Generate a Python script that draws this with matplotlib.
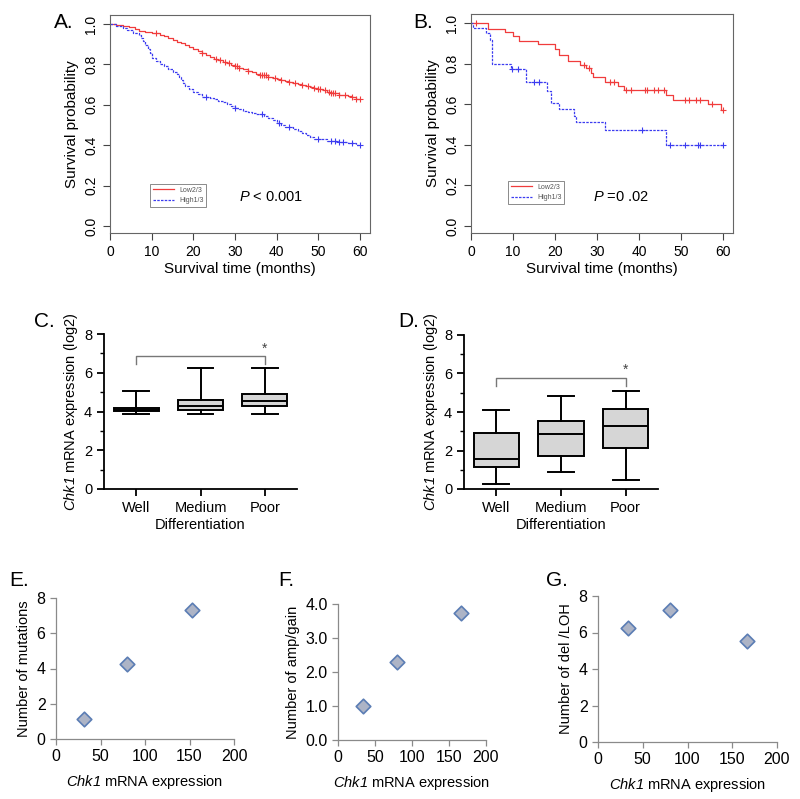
import numpy as np
import matplotlib
matplotlib.use("Agg")
import matplotlib.pyplot as plt

plt.rcParams['font.family'] = ['Liberation Sans', 'DejaVu Sans']
plt.rcParams['mathtext.fontset'] = 'custom'
plt.rcParams['mathtext.rm'] = 'Liberation Sans'
plt.rcParams['mathtext.it'] = 'Liberation Sans:italic'
# bf slot used for italic gene names so that digits are slanted too
plt.rcParams['mathtext.bf'] = 'Liberation Sans:italic'

# ---- A: Kaplan-Meier, cohort 1 ----
a_low_t = [0, 1.5, 3, 4.5, 6, 7, 8.5, 10, 12, 13, 14, 15, 16, 17, 18, 19, 20, 21, 22, 23, 24, 25,
           26, 27, 28, 29, 30, 31, 32, 33, 34, 35, 36, 38, 39, 40, 41, 42, 43, 44, 45, 46, 47, 48,
           49, 50, 51, 52, 53, 55, 57, 58, 59]
a_low_s = [1.0, 0.995, 0.99, 0.985, 0.975, 0.968, 0.962, 0.955, 0.948, 0.94, 0.93, 0.92, 0.912,
           0.905, 0.895, 0.885, 0.875, 0.865, 0.855, 0.847, 0.838, 0.828, 0.82, 0.813, 0.806,
           0.798, 0.79, 0.784, 0.777, 0.77, 0.762, 0.755, 0.746, 0.74, 0.735, 0.73, 0.724, 0.718,
           0.713, 0.708, 0.703, 0.698, 0.693, 0.688, 0.683, 0.678, 0.673, 0.665, 0.657, 0.65,
           0.643, 0.637, 0.63]
a_high_t = [0, 1.5, 3, 4, 5.5, 7, 7.5, 8, 8.5, 9, 9.5, 10, 11, 12, 13, 14, 15, 16, 16.5, 17, 17.5,
            18, 19, 20, 21, 22, 24, 25, 26, 27, 28, 29, 30, 31, 32, 33, 34, 35, 37, 38, 39, 40,
            41, 42, 44, 45, 46, 47, 48, 49, 52, 55, 57, 59]
a_high_s = [1.0, 0.99, 0.98, 0.97, 0.955, 0.945, 0.93, 0.915, 0.895, 0.875, 0.855, 0.83, 0.815,
            0.8, 0.79, 0.778, 0.765, 0.755, 0.74, 0.725, 0.71, 0.695, 0.68, 0.665, 0.653, 0.64,
            0.633, 0.627, 0.62, 0.613, 0.605, 0.595, 0.585, 0.577, 0.57, 0.565, 0.56, 0.553,
            0.545, 0.535, 0.525, 0.512, 0.5, 0.49, 0.48, 0.47, 0.46, 0.45, 0.44, 0.43, 0.423,
            0.417, 0.41, 0.403]
a_low_cens = [11, 22, 25.5, 26.5, 27.5, 28.5, 30, 30.5, 31, 33, 36, 36.5, 37, 37.5, 38, 39.5, 41,
              43, 44.5, 46, 47.5, 49, 50, 50.5, 51.5, 52.5, 53, 53.5, 54, 55, 56.5, 58, 59, 60]
a_high_cens = [23, 30, 36.5, 40.5, 43, 50, 53, 54, 55, 56, 58, 60]

# ---- B: Kaplan-Meier, cohort 2 ----
b_low_t = [0, 4, 8, 10, 11.5, 16, 20, 21, 23, 26, 27.5, 28.5, 29, 32, 35, 36.5, 46.5, 48, 56.5, 59.5]
b_low_s = [1.0, 0.97, 0.955, 0.935, 0.91, 0.895, 0.87, 0.845, 0.815, 0.795, 0.78, 0.755, 0.735,
           0.71, 0.69, 0.67, 0.645, 0.62, 0.6, 0.57]
b_high_t = [0, 0.5, 3.5, 4.5, 5, 9.5, 13, 18, 19, 21, 24.5, 25, 32, 46.5]
b_high_s = [1.0, 0.975, 0.95, 0.915, 0.80, 0.775, 0.71, 0.665, 0.607, 0.577, 0.54, 0.51, 0.475, 0.40]
b_low_cens = [1.3, 27, 28.2, 33, 34, 37, 38, 41.5, 42, 43.5, 44.5, 46, 51, 52, 53.5, 54.5, 57.5, 60]
b_high_cens = [9.8, 11.3, 15, 16.3, 40.8, 47.5, 51, 54, 54.5, 60]

# ---- C / D: boxplots ----
groups = ['Well', 'Medium', 'Poor']
c_whislo = [3.85, 3.85, 3.87]
c_q1 = [4.02, 4.1, 4.3]
c_med = [4.08, 4.3, 4.53]
c_q3 = [4.16, 4.6, 4.92]
c_whishi = [5.05, 6.22, 6.25]
d_whislo = [0.28, 0.88, 0.48]
d_q1 = [1.13, 1.7, 2.13]
d_med = [1.56, 2.86, 3.26]
d_q3 = [2.89, 3.55, 4.16]
d_whishi = [4.12, 4.83, 5.11]

# ---- E / F / G: scatter ----
e_x = [32, 80, 153]
e_y = [1.15, 4.25, 7.3]
f_x = [34, 80, 166]
f_y = [1.0, 2.3, 3.73]
g_x = [33, 81, 167]
g_y = [6.25, 7.23, 5.52]

GENE = r'$\mathbf{Chk1}$'

W, H = 800, 799
fig = plt.figure(figsize=(W / 100, H / 100), dpi=100)


def add_ax(l, t, r, b):
    return fig.add_axes([l / W, (H - b) / H, (r - l) / W, (b - t) / H])


def step_at(times, surv, t):
    i = np.searchsorted(times, t, side='right') - 1
    return surv[i]


def km_panel(ax, lt, ls, ht, hs, lc, hc, ptxt, px, leg_xy):
    red, blue = '#f03c3c', '#3c3cf0'
    ax.plot(lt + [60], ls + [ls[-1]], drawstyle='steps-post', color=red, lw=0.9, label='Low2/3')
    ax.plot(ht + [60], hs + [hs[-1]], drawstyle='steps-post', color=blue, lw=0.9,
            ls=(0, (2, 1)), label='High1/3')
    ax.plot(lc, [step_at(lt, ls, c) for c in lc], '+', color=red, ms=4.5, mew=0.8)
    ax.plot(hc, [step_at(ht, hs, c) for c in hc], '+', color=blue, ms=4.5, mew=0.8)
    ax.set_xlim(0, 62.4)
    ax.set_ylim(-0.035, 1.045)
    ax.set_xticks(range(0, 61, 10))
    ax.set_yticks(np.arange(0, 1.01, 0.2))
    ax.set_yticklabels(['%.1f' % v for v in np.arange(0, 1.01, 0.2)], rotation=90, va='center')
    ax.tick_params(direction='out', length=5, width=0.8, color='#444444', labelsize=10)
    for s in ax.spines.values():
        s.set_color('#666666')
        s.set_linewidth(0.8)
    ax.set_xlabel('Survival time (months)', fontsize=11, labelpad=2)
    ax.set_ylabel('Survival probability', fontsize=11, labelpad=4)
    leg = ax.legend(loc='lower left', bbox_to_anchor=leg_xy, fontsize=5, frameon=True,
                    fancybox=False, borderaxespad=0, handlelength=3, labelcolor='#555555')
    leg.get_frame().set_edgecolor('#555555')
    leg.get_frame().set_linewidth(0.6)
    ax.text(px, 0.143, ptxt, fontsize=10.5, va='center', ha='left')


axA = add_ax(110, 15, 370, 233)
km_panel(axA, a_low_t, a_low_s, a_high_t, a_high_s, a_low_cens, a_high_cens,
         r'$\it{P}$ < 0.001', 31, (0.154, 0.119))
axB = add_ax(471, 14, 733, 233)
km_panel(axB, b_low_t, b_low_s, b_high_t, b_high_s, b_low_cens, b_high_cens,
         r'$\it{P}$ =0 .02', 29, (0.141, 0.132))


def box_panel(ax, lo, q1, med, q3, hi, bracket_y, star_y):
    stats = []
    for i in range(3):
        stats.append(dict(whislo=lo[i], q1=q1[i], med=med[i], q3=q3[i], whishi=hi[i], fliers=[]))
    ax.bxp(stats, positions=[1, 2, 3], widths=0.7, capwidths=0.4, patch_artist=True,
           boxprops=dict(facecolor='#d6d6d6', edgecolor='black', linewidth=1.4),
           medianprops=dict(color='black', linewidth=1.4),
           whiskerprops=dict(color='black', linewidth=1.4),
           capprops=dict(color='black', linewidth=1.4))
    ax.plot([1, 1, 3, 3], [bracket_y - 0.4, bracket_y, bracket_y, bracket_y - 0.4],
            color='#777777', lw=1)
    ax.text(3, star_y, '*', ha='center', va='center', fontsize=10, color='#444444')
    ax.set_xlim(0.5, 3.5)
    ax.set_ylim(0, 8)
    ax.set_yticks([0, 2, 4, 6, 8])
    ax.set_yticks([1, 3, 5, 7], minor=True)
    ax.set_xticks([1, 2, 3])
    ax.set_xticklabels(groups)
    ax.spines['top'].set_visible(False)
    ax.spines['right'].set_visible(False)
    for s in ['left', 'bottom']:
        ax.spines[s].set_linewidth(1.3)
    ax.tick_params(which='major', direction='out', length=5, width=1.3, labelsize=10.5)
    ax.tick_params(which='minor', direction='out', length=3, width=1.0)
    ax.set_ylabel(GENE + ' mRNA expression (log2)', fontsize=10.5, labelpad=3)
    ax.set_xlabel('Differentiation', fontsize=10.5, labelpad=2)


axC = add_ax(104, 334, 297, 489)
box_panel(axC, c_whislo, c_q1, c_med, c_q3, c_whishi, 6.85, 7.25)
axD = add_ax(464, 335, 658, 489)
box_panel(axD, d_whislo, d_q1, d_med, d_q3, d_whishi, 5.75, 6.2)


def scatter_panel(ax, x, y, ymax, ystep, fmt, ylabel):
    ax.scatter(x, y, marker='D', s=55, facecolor='#adb4c6', edgecolor='#5b7db4', linewidth=1.2,
               zorder=3, clip_on=False)
    ax.set_xlim(0, 200)
    ax.set_ylim(0, ymax)
    ax.set_xticks(range(0, 201, 50))
    yt = np.arange(0, ymax + 0.001, ystep)
    ax.set_yticks(yt)
    ax.set_yticklabels([fmt % v for v in yt])
    ax.spines['top'].set_visible(False)
    ax.spines['right'].set_visible(False)
    for s in ['left', 'bottom']:
        ax.spines[s].set_color('#8a8a8a')
        ax.spines[s].set_linewidth(0.9)
    ax.tick_params(direction='out', length=4, width=0.9, color='#8a8a8a', labelsize=11.5)
    ax.set_ylabel(ylabel, fontsize=10.5, labelpad=4)
    ax.set_xlabel(GENE + ' mRNA expression', fontsize=10.5, labelpad=6)


axE = add_ax(56, 598, 234, 739)
scatter_panel(axE, e_x, e_y, 8, 2, '%d', 'Number of mutations')
axF = add_ax(338, 604, 486, 740)
scatter_panel(axF, f_x, f_y, 4, 1, '%.1f', 'Number of amp/gain')
axG = add_ax(598, 596, 777, 742)
scatter_panel(axG, g_x, g_y, 8, 2, '%d', 'Number of del /LOH')

# panel letters
for lab, x, y in [('A.', 54, 22), ('B.', 413, 22), ('C.', 34, 321), ('D.', 398, 321),
                  ('E.', 9, 580), ('F.', 278, 580), ('G.', 546, 580)]:
    fig.text(x / W, (H - y) / H, lab, fontsize=15, va='center', ha='left')

fig.savefig('out.png', dpi=100)
